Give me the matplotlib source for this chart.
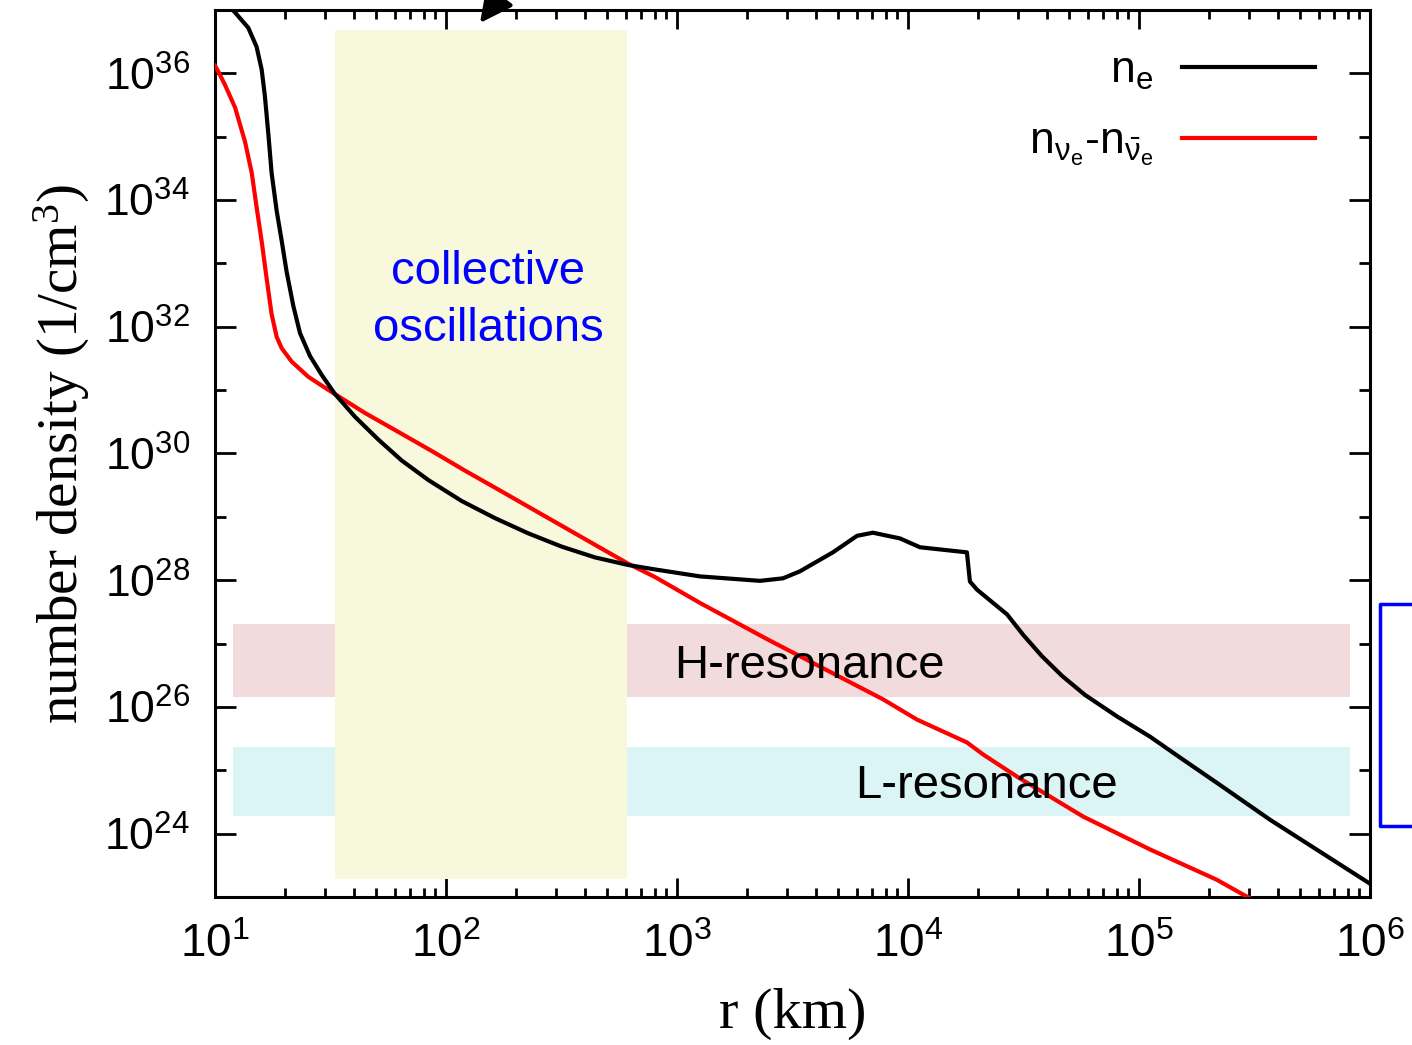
import numpy as np
import matplotlib
matplotlib.use("Agg")
import matplotlib.pyplot as plt
from matplotlib import font_manager
from matplotlib.patches import Rectangle
from matplotlib.lines import Line2D
from matplotlib.ticker import FixedLocator, NullFormatter

# radius (log10 km) and electron number density (log10 1/cm^3)
ne_logr = [1.000, 1.045, 1.087, 1.144, 1.180, 1.202, 1.216, 1.231, 1.245, 1.267,
           1.289, 1.310, 1.339, 1.368, 1.411, 1.462, 1.519, 1.606, 1.707, 1.808,
           1.924, 2.068, 2.212, 2.356, 2.501, 2.645, 2.789, 2.905, 3.100, 3.359,
           3.459, 3.532, 3.675, 3.779, 3.848, 3.965, 4.052, 4.255, 4.268, 4.299,
           4.429, 4.498, 4.580, 4.667, 4.766, 4.905, 5.048, 5.190, 5.338, 5.567,
           6.000]
ne_logn = [37.35, 37.12, 36.96, 36.72, 36.42, 36.06, 35.64, 35.04, 34.43, 33.83,
           33.35, 32.87, 32.33, 31.90, 31.54, 31.24, 30.94, 30.58, 30.22, 29.89,
           29.58, 29.25, 28.98, 28.74, 28.53, 28.36, 28.24, 28.17, 28.06, 27.99,
           28.03, 28.14, 28.44, 28.70, 28.75, 28.66, 28.52, 28.44, 27.98, 27.85,
           27.46, 27.14, 26.80, 26.49, 26.19, 25.85, 25.53, 25.17, 24.80, 24.22,
           23.21]

# net electron neutrino density n_nue - n_nuebar
nu_logr = [1.000, 1.014, 1.043, 1.087, 1.130, 1.159, 1.180, 1.202, 1.224, 1.245,
           1.267, 1.289, 1.332, 1.404, 1.505, 1.649, 1.794, 1.938, 2.082, 2.227,
           2.371, 2.515, 2.659, 2.789, 2.905, 3.100, 3.390, 3.675, 3.892, 4.039,
           4.255, 4.325, 4.472, 4.758, 5.048, 5.338, 5.450, 5.697]
nu_logn = [36.12, 36.03, 35.82, 35.46, 34.92, 34.43, 33.89, 33.35, 32.75, 32.20,
           31.84, 31.66, 31.45, 31.21, 30.97, 30.64, 30.34, 30.04, 29.73, 29.43,
           29.13, 28.83, 28.53, 28.26, 28.05, 27.64, 27.07, 26.53, 26.12, 25.80,
           25.44, 25.25, 24.90, 24.27, 23.75, 23.27, 23.04, 22.56]

# shaded regions: (r_min, r_max, n_min, n_max)
collective_region = (33.0, 608.0, 1.9e23, 4.9e36)
h_resonance = (12.0, 8.2e5, 1.45e26, 2.0e27)
l_resonance = (12.0, 8.2e5, 1.9e24, 2.3e25)

x_exponents = [1, 2, 3, 4, 5, 6]
y_exponents = [24, 26, 28, 30, 32, 34, 36]

installed = {f.name for f in font_manager.fontManager.ttflist}
sans = ["Liberation Sans", "DejaVu Sans"]
if "Liberation Sans Narrow" in installed:
    narrow, narrow_size = "Liberation Sans Narrow", 35
else:
    narrow, narrow_size = "Liberation Sans", 33
serif = "Liberation Serif"

W, H = 1412, 1045
fig = plt.figure(figsize=(W / 100, H / 100), dpi=100)
ax = fig.add_axes([215 / W, 1 - 897 / H, (1370 - 215) / W, (897 - 10) / H])
ax.set_xscale("log")
ax.set_yscale("log")
ax.set_xlim(1e1, 1e6)
ax.set_ylim(1e23, 1e37)

def band(region, color, z):
    x0, x1, y0, y1 = region
    ax.add_patch(Rectangle((x0, y0), x1 - x0, y1 - y0, facecolor=color,
                           edgecolor="none", zorder=z))

band(h_resonance, "#f2dbdc", 1)
band(l_resonance, "#dbf4f5", 1)
band(collective_region, "#f8f8dc", 2)

ax.plot(np.power(10.0, ne_logr), np.power(10.0, ne_logn), color="black", lw=3.0,
        zorder=5, solid_joinstyle="round", label=r"$\mathregular{n_e}$")
ax.plot(np.power(10.0, nu_logr), np.power(10.0, nu_logn), color="red", lw=3.0,
        zorder=4, solid_joinstyle="round",
        label=r"$\mathregular{n_{ν_e}}$-$\mathregular{n_{\bar{ν}_e}}$")

ax.text(10 ** 2.182, 10 ** 32.67, "collective", color="blue", fontsize=34,
        family=sans, ha="center", va="baseline", zorder=6)
ax.text(10 ** 2.182, 10 ** 31.77, "oscillations", color="blue", fontsize=34,
        family=sans, ha="center", va="baseline", zorder=6)
ax.text(10 ** 3.571, 10 ** 26.46, "H-resonance", fontsize=34, family=sans,
        ha="center", va="baseline", zorder=6)
ax.text(10 ** 4.338, 10 ** 24.57, "L-resonance", fontsize=34, family=sans,
        ha="center", va="baseline", zorder=6)

leg = ax.legend(loc="upper right", bbox_to_anchor=(0.987, 0.999), frameon=False,
                markerfirst=False, handlelength=3.0, handletextpad=0.65,
                labelspacing=0.66, prop={"family": sans, "size": 32})

# ticks
ax.xaxis.set_major_locator(FixedLocator([10.0 ** e for e in x_exponents]))
ax.xaxis.set_minor_locator(FixedLocator([m * 10.0 ** e for e in x_exponents[:-1]
                                         for m in range(2, 10)]))
ax.set_xticklabels([r"$\mathregular{10^{%d}}$" % e for e in x_exponents])
ax.xaxis.set_minor_formatter(NullFormatter())
ax.yaxis.set_major_locator(FixedLocator([10.0 ** e for e in y_exponents]))
ax.yaxis.set_minor_locator(FixedLocator([10.0 ** e for e in range(23, 38, 2)]))
ax.set_yticklabels([r"$\mathregular{10^{%d}}$" % e for e in y_exponents])
ax.yaxis.set_minor_formatter(NullFormatter())

ax.tick_params(which="both", direction="in", top=True, right=True, width=2.0)
ax.tick_params(axis="x", which="major", length=14, pad=19, labelsize=narrow_size,
               labelfontfamily=narrow)
ax.tick_params(axis="x", which="minor", length=6.5)
ax.tick_params(axis="y", which="major", length=15, pad=18, labelsize=32,
               labelfontfamily="Liberation Sans")
ax.tick_params(axis="y", which="minor", length=8)
for s in ax.spines.values():
    s.set_linewidth(2.2)

ax.set_xlabel("r (km)", family=serif, fontsize=42, labelpad=15)
ax.set_ylabel(r"number density (1/cm$\mathregular{^3}$)", family=serif,
              fontsize=41, labelpad=9)

# pieces of neighbouring panel artwork at the edges
ax.annotate("", xy=(480, H - 23), xycoords="figure pixels",
            xytext=(512, H + 20), textcoords="figure pixels",
            arrowprops=dict(arrowstyle="-|>", mutation_scale=50, color="black",
                            lw=3, shrinkA=0, shrinkB=0))
fig.add_artist(Line2D(np.array([1415, 1380, 1380, 1415]) / W,
                      1 - np.array([604, 604, 826, 826]) / H,
                      transform=fig.transFigure, color="blue", lw=2.5))

fig.savefig("out.png", dpi=100)
